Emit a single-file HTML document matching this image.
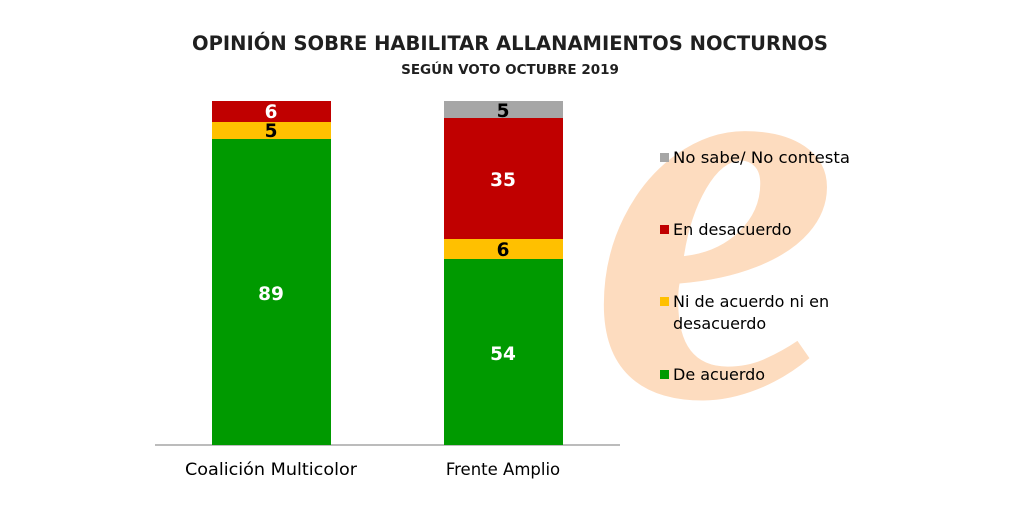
<!DOCTYPE html>
<html><head><style>
body{margin:0;background:#fff;}
svg text{font-family:"DejaVu Sans","Liberation Sans",sans-serif;}
</style></head><body>
<svg width="1024" height="512" viewBox="0 0 1024 512" xmlns="http://www.w3.org/2000/svg">
<rect width="1024" height="512" fill="#fff"/>
<text x="510" y="50" text-anchor="middle" font-weight="bold" font-size="19.5" fill="#1f1f1f" textLength="636" lengthAdjust="spacingAndGlyphs">OPINIÓN SOBRE HABILITAR ALLANAMIENTOS NOCTURNOS</text>
<text x="510" y="74" text-anchor="middle" font-weight="bold" font-size="13.5" fill="#1f1f1f">SEGÚN VOTO OCTUBRE 2019</text>
<text x="715" y="395" text-anchor="middle" font-family="Liberation Serif" font-style="italic" font-weight="bold" font-size="560" fill="#fddcbf" style="font-family:'Liberation Serif',serif">e</text>
<line x1="155" y1="445" x2="620" y2="445" stroke="#a6a6a6" stroke-width="1.5"/>
<rect x="212" y="139" width="119" height="306" fill="#009a00"/>
<rect x="212" y="122" width="119" height="17" fill="#ffc000"/>
<rect x="212" y="101" width="119" height="21" fill="#c00000"/>
<rect x="444" y="259" width="119" height="186" fill="#009a00"/>
<rect x="444" y="239" width="119" height="20" fill="#ffc000"/>
<rect x="444" y="118" width="119" height="121" fill="#c00000"/>
<rect x="444" y="101" width="119" height="17" fill="#a6a6a6"/>
<g font-weight="bold" font-size="18.5" text-anchor="middle">
<text x="271" y="300" fill="#fff">89</text>
<text x="271" y="137" fill="#000">5</text>
<text x="271" y="118" fill="#fff">6</text>
<text x="503" y="360" fill="#fff">54</text>
<text x="503" y="256" fill="#000">6</text>
<text x="503" y="186" fill="#fff">35</text>
<text x="503" y="117" fill="#000">5</text>
</g>
<g font-size="16.5" fill="#000">
<text x="271" y="475" text-anchor="middle" textLength="172" lengthAdjust="spacingAndGlyphs">Coalición Multicolor</text>
<text x="503" y="475" text-anchor="middle">Frente Amplio</text>
</g>
<g font-size="16" fill="#000">
<rect x="660" y="153" width="9" height="9" fill="#a6a6a6"/><text x="673" y="163" textLength="177" lengthAdjust="spacingAndGlyphs">No sabe/  No contesta</text>
<rect x="660" y="225" width="9" height="9" fill="#c00000"/><text x="673" y="235">En desacuerdo</text>
<rect x="660" y="297" width="9" height="9" fill="#ffc000"/><text x="673" y="307">Ni de acuerdo ni en</text><text x="673" y="329">desacuerdo</text>
<rect x="660" y="370" width="9" height="9" fill="#009a00"/><text x="673" y="380">De acuerdo</text>
</g>
</svg>
</body></html>
